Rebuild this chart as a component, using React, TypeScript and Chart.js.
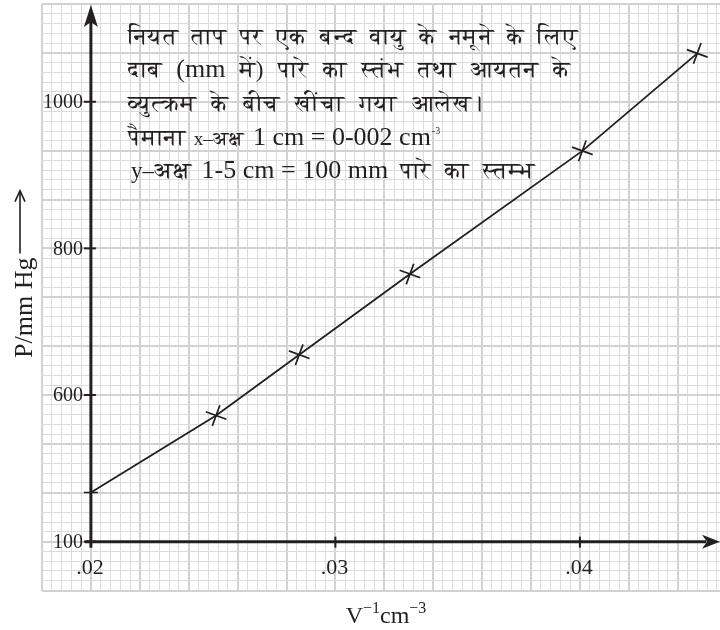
import { useEffect, useRef } from 'react';
import { Chart, registerables } from 'chart.js';

Chart.register(...registerables);

// ---- data ----
const invVolume = [0.02, 0.02512, 0.02852, 0.03305, 0.0401, 0.0448];
const pressure = [467, 572, 655, 765, 933, 1066];

const xTickValues = [0.02, 0.03, 0.04];
const xTickLabels = ['.02', '.03', '.04'];
// broken y axis: the axis line sits at 400 on the scale but is labelled "100"
const yTickValues = [400, 600, 800, 1000];
const yTickLabels = ['100', '600', '800', '1000'];

const noteLines = [
  'नियत ताप पर एक बन्द वायु के नमूने के लिए',
  'दाब (mm में) पारे का स्तंभ तथा आयतन के',
  'व्युत्क्रम के बीच खींचा गया आलेख।',
];
const scaleLabel = 'पैमाना';
const scaleXAxis = 'x–अक्ष';
const scaleXText = '1 cm = 0-002 cm';
const scaleXSup = '-3';
const scaleYAxis = 'y–अक्ष';
const scaleYText = '1-5 cm = 100 mm';
const scaleYTail = 'पारे का स्तम्भ';

const yTitle = 'P/mm Hg';
const xTitleParts = ['V', '−1', 'cm', '−3'];

// ---- scale ranges of the graph paper ----
const X_MIN = 0.018;
const X_MAX = 0.04573;
const X_MINOR = 0.0004;
const Y_MIN = 400 - 200 / 3;
const Y_MAX = 400 + (11 * 200) / 3;
const Y_MINOR = 40 / 3;
const X_AXIS_AT = 400;
const Y_AXIS_AT = 0.02;

const INK = '#231f20';
const SERIF = "'Liberation Serif', 'Times New Roman', 'FreeSerif', 'Noto Serif Devanagari', 'Noto Sans Devanagari', 'Lohit Devanagari', serif";

function gridTicks(min: number, max: number, step: number) {
  const n = Math.floor((max - min) / step + 1e-6);
  const out: { value: number }[] = [];
  for (let i = 0; i <= n; i++) out.push({ value: min + i * step });
  return out;
}

const overlayPlugin = {
  id: 'overlay',
  beforeDatasetsDraw(chart: any) {
    const { ctx, chartArea } = chart;
    const x = chart.scales.x;
    const y = chart.scales.y;
    const ax = x.getPixelForValue(Y_AXIS_AT);
    const ay = y.getPixelForValue(X_AXIS_AT);
    ctx.save();
    ctx.strokeStyle = INK;
    ctx.fillStyle = INK;
    ctx.lineCap = 'butt';
    ctx.lineWidth = 3;
    // y axis
    ctx.beginPath();
    ctx.moveTo(ax, ay + 6);
    ctx.lineTo(ax, chartArea.top + 16);
    ctx.stroke();
    ctx.beginPath();
    ctx.moveTo(ax, chartArea.top + 1);
    ctx.lineTo(ax + 7, chartArea.top + 23);
    ctx.lineTo(ax, chartArea.top + 18);
    ctx.lineTo(ax - 7, chartArea.top + 23);
    ctx.closePath();
    ctx.fill();
    // x axis
    ctx.beginPath();
    ctx.moveTo(ax - 6, ay);
    ctx.lineTo(chartArea.right - 14, ay);
    ctx.stroke();
    ctx.beginPath();
    ctx.moveTo(chartArea.right, ay);
    ctx.lineTo(chartArea.right - 18, ay - 7);
    ctx.lineTo(chartArea.right - 13, ay);
    ctx.lineTo(chartArea.right - 18, ay + 7);
    ctx.closePath();
    ctx.fill();
    // ticks
    ctx.lineWidth = 2;
    yTickValues.forEach((v) => {
      const py = y.getPixelForValue(v);
      ctx.beginPath();
      ctx.moveTo(ax - 7, py);
      ctx.lineTo(ax + 5, py);
      ctx.stroke();
    });
    xTickValues.forEach((v) => {
      if (v === Y_AXIS_AT) return;
      const px = x.getPixelForValue(v);
      ctx.beginPath();
      ctx.moveTo(px, ay - 5);
      ctx.lineTo(px, ay + 6);
      ctx.stroke();
    });
    ctx.restore();
  },
  afterDraw(chart: any) {
    const { ctx } = chart;
    const x = chart.scales.x;
    const y = chart.scales.y;
    const ax = x.getPixelForValue(Y_AXIS_AT);
    const ay = y.getPixelForValue(X_AXIS_AT);
    ctx.save();
    ctx.fillStyle = INK;
    ctx.strokeStyle = INK;

    // tick labels
    ctx.font = `20px ${SERIF}`;
    ctx.textAlign = 'right';
    ctx.textBaseline = 'middle';
    yTickValues.forEach((v, i) => {
      ctx.fillText(yTickLabels[i], ax - 8, y.getPixelForValue(v) + 1);
    });
    ctx.font = `22px ${SERIF}`;
    ctx.textAlign = 'center';
    ctx.textBaseline = 'alphabetic';
    xTickValues.forEach((v, i) => {
      ctx.fillText(xTickLabels[i], x.getPixelForValue(v) - 1, ay + 32);
    });

    // x title with superscripts
    ctx.textAlign = 'left';
    const big = `24px ${SERIF}`;
    const small = `16px ${SERIF}`;
    const parts = xTitleParts.map((t, i) => ({ t, f: i % 2 === 0 ? big : small, dy: i % 2 === 0 ? 0 : -10 }));
    let total = 0;
    parts.forEach((p) => { ctx.font = p.f; total += ctx.measureText(p.t).width; });
    let cx = 386 - total / 2;
    parts.forEach((p) => {
      ctx.font = p.f;
      ctx.fillText(p.t, cx, 623 + p.dy);
      cx += ctx.measureText(p.t).width;
    });

    // y title rotated with arrow
    ctx.save();
    ctx.translate(32, 358);
    ctx.rotate(-Math.PI / 2);
    ctx.font = `26px ${SERIF}`;
    ctx.textAlign = 'left';
    ctx.fillText(yTitle, 0, 0);
    const tw = ctx.measureText(yTitle).width;
    ctx.lineWidth = 1.6;
    ctx.beginPath();
    ctx.moveTo(tw + 4, -12);
    ctx.lineTo(tw + 66, -12);
    ctx.stroke();
    ctx.beginPath();
    ctx.moveTo(tw + 56, -17);
    ctx.lineTo(tw + 67, -12);
    ctx.lineTo(tw + 56, -7);
    ctx.stroke();
    ctx.restore();

    // note block
    const deva = `23px ${SERIF}`;
    const latin = `26px ${SERIF}`;
    const left = 128;
    const baselines = [44, 77, 111, 145, 178];
    const rights = [578, 570, 482];
    noteLines.forEach((line, i) => {
      const words = line.split(' ');
      const fonts = words.map((w) => (/^[\x00-\x7f]+$/.test(w) ? latin : deva));
      const widths = words.map((w, j) => { ctx.font = fonts[j]; return ctx.measureText(w).width; });
      const sum = widths.reduce((a, b) => a + b, 0);
      const gap = (rights[i] - left - sum) / (words.length - 1);
      let wx = left;
      words.forEach((w, j) => {
        ctx.font = fonts[j];
        ctx.fillText(w, wx, baselines[i]);
        wx += widths[j] + gap;
      });
    });

    // line 4
    let lx = left;
    ctx.font = deva;
    ctx.fillText(scaleLabel, lx, baselines[3]);
    lx = Math.max(188, lx + ctx.measureText(scaleLabel).width + 8);
    ctx.font = `19px ${SERIF}`;
    ctx.fillText(scaleXAxis, lx, baselines[3]);
    lx = Math.max(253, lx + ctx.measureText(scaleXAxis).width + 6);
    ctx.font = latin;
    ctx.fillText(scaleXText, lx, baselines[3]);
    lx += ctx.measureText(scaleXText).width + 1;
    ctx.font = `10px ${SERIF}`;
    ctx.fillText(scaleXSup, lx, baselines[3] - 11);

    // line 5
    lx = 131;
    ctx.font = deva;
    ctx.fillText(scaleYAxis, lx, baselines[4]);
    lx = Math.max(200, lx + ctx.measureText(scaleYAxis).width + 10);
    ctx.font = latin;
    ctx.fillText(scaleYText, lx, baselines[4]);
    lx += ctx.measureText(scaleYText).width + 12;
    ctx.font = deva;
    const tailWords = scaleYTail.split(' ');
    const tw2 = tailWords.map((w) => ctx.measureText(w).width);
    const tailGap = Math.max(6, (535 - lx - tw2.reduce((a, b) => a + b, 0)) / (tailWords.length - 1));
    tailWords.forEach((w, j) => {
      ctx.fillText(w, lx, baselines[4]);
      lx += tw2[j] + tailGap;
    });

    ctx.restore();
  },
};

export default function App() {
  const ref = useRef<HTMLCanvasElement | null>(null);

  useEffect(() => {
    document.body.style.margin = '0';
    const canvas = ref.current;
    if (!canvas) return;
    const majorColor = '#d2d2d2';
    const minorColor = '#dcdcdc';
    const chart = new Chart(canvas, {
      type: 'line',
      data: {
        datasets: [
          {
            data: invVolume.map((v, i) => ({ x: v, y: pressure[i] })),
            borderColor: INK,
            borderWidth: 1.8,
            tension: 0,
            fill: false,
            pointStyle: invVolume.map((_, i) => (i === 0 ? 'line' : 'cross')) as any,
            pointRotation: invVolume.map((_, i) => (i === 0 ? 0 : 20)),
            pointRadius: invVolume.map((_, i) => (i === 0 ? 7 : 11)),
            pointBorderColor: INK,
            pointBorderWidth: 1.7,
            pointBackgroundColor: 'transparent',
          },
        ],
      },
      options: {
        animation: false,
        responsive: true,
        maintainAspectRatio: false,
        layout: { autoPadding: false, padding: { left: 42, top: 4, right: 0, bottom: 39.5 } },
        plugins: { legend: { display: false }, tooltip: { enabled: false } },
        events: [],
        scales: {
          x: {
            type: 'linear',
            min: X_MIN,
            max: X_MAX,
            afterBuildTicks: (s: any) => { s.ticks = gridTicks(X_MIN, X_MAX, X_MINOR); },
            afterFit: (s: any) => { s.height = 0; },
            ticks: { display: false },
            border: { display: false },
            grid: {
              drawTicks: false,
              color: (c: any) => (c.index % 5 === 0 ? majorColor : minorColor),
              lineWidth: (c: any) => (c.index % 5 === 0 ? 2 : 1),
            },
          },
          y: {
            type: 'linear',
            min: Y_MIN,
            max: Y_MAX,
            afterBuildTicks: (s: any) => { s.ticks = gridTicks(Y_MIN, Y_MAX, Y_MINOR); },
            afterFit: (s: any) => { s.width = 0; },
            ticks: { display: false },
            border: { display: false },
            grid: {
              drawTicks: false,
              color: (c: any) => (c.index % 5 === 0 ? majorColor : minorColor),
              lineWidth: (c: any) => (c.index % 5 === 0 ? 2 : 1),
            },
          },
        },
      },
      plugins: [overlayPlugin],
    });
    return () => chart.destroy();
  }, []);

  return (
    <div style={{ position: 'fixed', left: 0, top: 0, width: 720, height: 630, background: '#fff' }}>
      <canvas ref={ref} />
    </div>
  );
}
